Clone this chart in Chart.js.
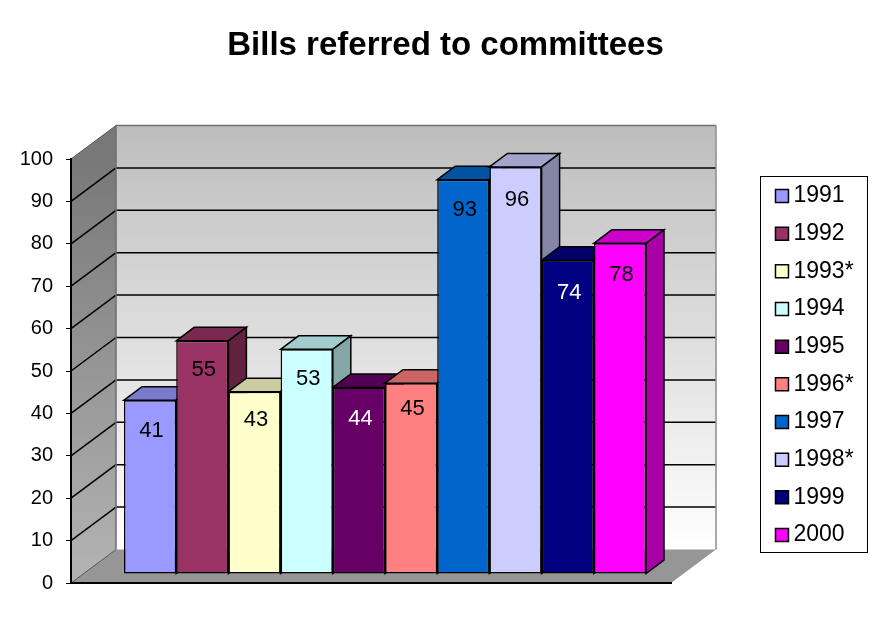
<!DOCTYPE html>
<html lang="en">
<head>
    <meta charset="UTF-8">
    <title>Bills referred to committees</title>
    <style>
        body {
            margin: 0;
            background: #fff;
        }
    </style>
</head>
<body>
    <canvas id="billsChart" width="879" height="642"></canvas>
    <script src="https://cdn.jsdelivr.net/npm/chart.js"></script>
    <script>
        const years = ['1991', '1992', '1993*', '1994', '1995', '1996*', '1997', '1998*', '1999', '2000'];
        const bills = [41, 55, 43, 53, 44, 45, 93, 96, 74, 78];
        const barColors = ['#9999FF', '#993366', '#FFFFCC', '#CCFFFF', '#660066', '#FF8080', '#0066CC', '#CCCCFF', '#000080', '#FF00FF'];
        const whiteLabels = ['1995', '1999'];
        const yTicks = [0, 10, 20, 30, 40, 50, 60, 70, 80, 90, 100];

        const fontName = '"Liberation Sans", Arial, sans-serif';

        // depth of the walls and of the bars, in pixels
        const wallDx = 45, wallDy = -33.5;
        const barDx = 18, barDy = -13.5;
        // bars stand a little way in from the front edge of the floor
        const shiftX = 14, shiftY = -9;
        // how far each value label sits below the top of its bar
        const labelDrop = [31, 29, 28, 30, 31, 26, 30, 33, 33, 32];

        function shade(hex, f) {
            const n = parseInt(hex.slice(1), 16);
            const r = Math.round((n >> 16) * f);
            const g = Math.round(((n >> 8) & 255) * f);
            const b = Math.round((n & 255) * f);
            return `rgb(${r},${g},${b})`;
        }

        function poly(ctx, pts, fill, stroke, width) {
            ctx.beginPath();
            pts.forEach((p, i) => i ? ctx.lineTo(p[0], p[1]) : ctx.moveTo(p[0], p[1]));
            ctx.closePath();
            if (fill) {
                ctx.fillStyle = fill;
                ctx.fill();
            }
            if (stroke) {
                ctx.strokeStyle = stroke;
                ctx.lineWidth = width || 1;
                ctx.stroke();
            }
        }

        const box3d = {
            id: 'box3d',
            afterLayout(chart) {
                // move the legend out to its frame, right of the plot
                chart.legend.left = chart.chartArea.right + 96.3;
                chart.legend.right = chart.legend.left + chart.legend.width;
                chart.legend.top += 74;
                chart.legend.bottom += 74;
            },
            beforeDraw(chart) {
                const ctx = chart.ctx;
                const { left, right, top, bottom } = chart.chartArea;
                const y = chart.scales.y;

                // back wall
                const back = ctx.createLinearGradient(0, top + wallDy, 0, bottom + wallDy);
                back.addColorStop(0, '#BDBDBD');
                back.addColorStop(1, '#FFFFFF');
                ctx.fillStyle = back;
                ctx.fillRect(left + wallDx, top + wallDy, right - left, bottom - top);

                // left wall
                const side = ctx.createLinearGradient(0, top, 0, bottom);
                side.addColorStop(0, '#787878');
                side.addColorStop(1, '#B4B4B4');
                poly(ctx, [[left, top], [left + wallDx, top + wallDy], [left + wallDx, bottom + wallDy], [left, bottom]], side);

                // floor
                poly(ctx, [[left, bottom], [right, bottom], [right + wallDx, bottom + wallDy], [left + wallDx, bottom + wallDy]], '#969696');

                // grid lines on both walls
                yTicks.forEach(v => {
                    const py = y.getPixelForValue(v);
                    ctx.beginPath();
                    ctx.moveTo(left, py);
                    ctx.lineTo(left + wallDx, py + wallDy);
                    ctx.strokeStyle = v === 0 || v === 100 ? '#555' : '#000';
                    ctx.lineWidth = v === 0 || v === 100 ? 1 : 1.5;
                    ctx.stroke();
                    if (v > 0 && v < 100) {
                        ctx.beginPath();
                        ctx.moveTo(left + wallDx, py + wallDy);
                        ctx.lineTo(right + wallDx, py + wallDy);
                        ctx.stroke();
                    }
                });

                // wall edges
                ctx.strokeStyle = '#6E6E6E';
                ctx.lineWidth = 1.5;
                ctx.beginPath();
                ctx.moveTo(left + wallDx, bottom + wallDy);
                ctx.lineTo(left + wallDx, top + wallDy);
                ctx.lineTo(right + wallDx, top + wallDy);
                ctx.stroke();
                ctx.strokeStyle = '#8C8C8C';
                ctx.beginPath();
                ctx.moveTo(right + wallDx, top + wallDy);
                ctx.lineTo(right + wallDx, bottom + wallDy);
                ctx.stroke();

                // legend frame
                ctx.strokeStyle = '#000';
                ctx.lineWidth = 1;
                ctx.strokeRect(760.5, 176.5, 107, 376);
            },
            beforeDatasetsDraw(chart) {
                const ctx = chart.ctx;
                ctx.save();
                ctx.translate(shiftX, shiftY);
                // tops and right sides go first, the native bars cover them
                years.forEach((year, i) => {
                    const bar = chart.getDatasetMeta(i).data[0];
                    const l = bar.x - bar.width / 2;
                    const r = bar.x + bar.width / 2;
                    const t = bar.y;
                    const b = bar.base;
                    poly(ctx, [[l, t], [l + barDx, t + barDy], [r + barDx, t + barDy], [r, t]], shade(barColors[i], 0.8), '#000', 1.5);
                    poly(ctx, [[r, t], [r + barDx, t + barDy], [r + barDx, b + barDy], [r, b]], shade(barColors[i], 0.65), '#000', 1.5);
                });
            },
            afterDatasetsDraw(chart) {
                const ctx = chart.ctx;
                ctx.font = '22px ' + fontName;
                ctx.textAlign = 'center';
                ctx.textBaseline = 'middle';
                years.forEach((year, i) => {
                    const bar = chart.getDatasetMeta(i).data[0];
                    ctx.fillStyle = whiteLabels.includes(year) ? '#fff' : '#000';
                    ctx.fillText(bills[i], bar.x + 1.5, bar.y + labelDrop[i]);
                });
                ctx.restore();
            }
        };

        new Chart(document.getElementById('billsChart'), {
            type: 'bar',
            data: {
                labels: ['Bills'],
                datasets: years.map((year, i) => ({
                    label: year,
                    data: [bills[i]],
                    backgroundColor: barColors[i],
                    borderColor: '#000',
                    borderWidth: 1.5,
                    borderSkipped: false,
                    yAxisID: 'y'
                }))
            },
            options: {
                responsive: false,
                animation: false,
                categoryPercentage: 0.87,
                barPercentage: 1,
                layout: {
                    padding: { left: 12, right: 0, top: 0, bottom: 59 }
                },
                scales: {
                    x: {
                        grid: { display: false },
                        border: { color: '#000', width: 2 },
                        ticks: { display: false },
                        afterFit(scale) {
                            scale.height = 0;
                        }
                    },
                    y: {
                        min: 0,
                        max: 100,
                        afterFit(scale) {
                            scale.width = 59;
                        },
                        afterBuildTicks(scale) {
                            scale.ticks = yTicks.map(v => ({ value: v }));
                        },
                        grid: { drawOnChartArea: false, color: '#000', tickLength: 5 },
                        border: { color: '#000', width: 2 },
                        ticks: {
                            color: '#000',
                            padding: 13,
                            font: { family: fontName, size: 20 }
                        }
                    },
                    // empty axis, only keeps the gap between plot and legend
                    gap: {
                        position: 'right',
                        display: true,
                        grid: { display: false },
                        border: { display: false },
                        ticks: { display: false },
                        afterFit(scale) {
                            scale.width = 111.7;
                        }
                    }
                },
                plugins: {
                    title: {
                        display: true,
                        text: 'Bills referred to committees',
                        color: '#000',
                        font: { family: fontName, size: 33, weight: 'bold' },
                        padding: { top: 26, bottom: 93.4 }
                    },
                    legend: {
                        position: 'right',
                        labels: {
                            color: '#000',
                            font: { family: fontName, size: 23, lineHeight: 1 },
                            padding: 14.67,
                            usePointStyle: true,
                            pointStyle: 'rect',
                            boxWidth: 0.01,
                            boxHeight: 13
                        }
                    },
                    tooltip: { enabled: false }
                }
            },
            plugins: [box3d]
        });
    </script>
</body>
</html>
